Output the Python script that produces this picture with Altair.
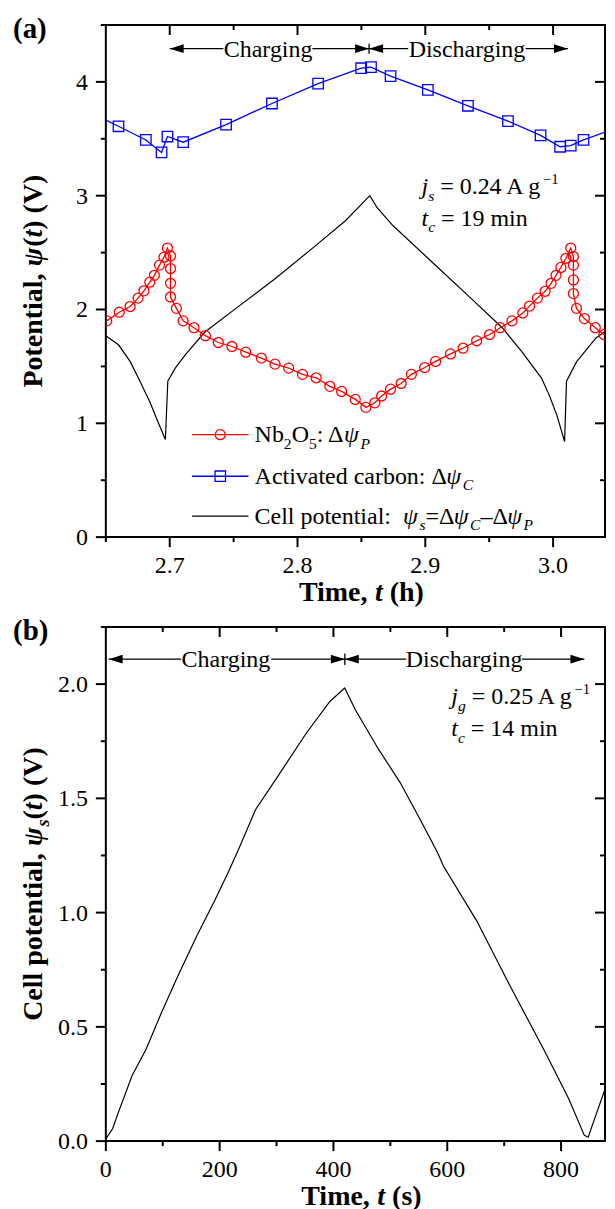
import altair as alt
import pandas as pd

SERIF = "Liberation Serif"

# ---------------- Panel (a): electrode and cell potentials vs time (h) ----------------
nb_t = [2.6507, 2.6605, 2.669, 2.6752, 2.6798, 2.6844, 2.688, 2.692, 2.6955, 2.6982,
        2.7006, 2.7006, 2.7006, 2.7006, 2.7052, 2.7105, 2.719, 2.7279, 2.738, 2.7487,
        2.7595, 2.7717, 2.7824, 2.7931, 2.8039, 2.8146, 2.8253, 2.8345, 2.8452, 2.8535,
        2.8605, 2.8658, 2.8728, 2.8811, 2.8891, 2.8995, 2.908, 2.9197, 2.9295, 2.9402,
        2.9503, 2.9586, 2.9678, 2.9763, 2.9816, 2.9877, 2.9938, 2.9984, 3.0023, 3.0061,
        3.01, 3.0138, 3.0159, 3.0159, 3.0159, 3.0159, 3.0183, 3.0245, 3.033, 3.0398, 3.0474]
nb_v = [1.90, 1.976, 2.026, 2.10, 2.164, 2.24, 2.30, 2.39, 2.46, 2.54,
        2.47, 2.36, 2.23, 2.11, 2.01, 1.90, 1.84, 1.77, 1.71, 1.675,
        1.625, 1.573, 1.52, 1.485, 1.43, 1.40, 1.325, 1.28, 1.21, 1.14,
        1.18, 1.24, 1.30, 1.35, 1.43, 1.49, 1.544, 1.61, 1.66, 1.725,
        1.78, 1.84, 1.90, 1.97, 2.03, 2.10, 2.16, 2.23, 2.30, 2.37,
        2.45, 2.54, 2.465, 2.39, 2.26, 2.14, 2.01, 1.92, 1.84, 1.78, 1.73]

ac_t = [2.6599, 2.6813, 2.6936, 2.6982, 2.7105, 2.7441, 2.78, 2.8161, 2.8498, 2.8575,
        2.8728, 2.902, 2.9334, 2.9647, 2.9902, 3.0055, 3.0138, 3.0238]
ac_v = [3.61, 3.49, 3.38, 3.52, 3.47, 3.625, 3.81, 3.985, 4.12, 4.13,
        4.05, 3.93, 3.79, 3.655, 3.53, 3.43, 3.44, 3.49]
ac_line_t = [2.65, 2.6599, 2.6813, 2.6936, 2.6982, 2.7105, 2.7441, 2.78, 2.8161, 2.8498,
             2.8575, 2.8728, 2.902, 2.9334, 2.9647, 2.9902, 3.0055, 3.0138, 3.0238, 3.0484]
ac_line_v = [3.664, 3.61, 3.49, 3.38, 3.52, 3.47, 3.625, 3.81, 3.985, 4.12,
             4.13, 4.05, 3.93, 3.79, 3.655, 3.53, 3.43, 3.44, 3.49, 3.59]

cell_a_t = [2.65, 2.6599, 2.669, 2.6767, 2.6844, 2.6905, 2.6966, 2.6985, 2.7043, 2.712,
            2.7273, 2.7518, 2.7824, 2.813, 2.8375, 2.8566, 2.862, 2.8744, 2.905, 2.9356,
            2.9602, 2.9755, 2.9908, 2.9969, 3.003, 3.009, 3.0105, 3.0183, 3.0336, 3.0484]
cell_a_v = [1.77, 1.69, 1.544, 1.37, 1.19, 1.02, 0.857, 1.37, 1.485, 1.60,
            1.80, 2.01, 2.27, 2.55, 2.78, 3.0, 2.90, 2.74, 2.42, 2.10,
            1.84, 1.63, 1.40, 1.25, 1.07, 0.84, 1.37, 1.54, 1.75, 1.87]

a_x_major = [2.7, 2.8, 2.9, 3.0]
a_x_labels = ["2.7", "2.8", "2.9", "3.0"]
a_x_minor = [2.65, 2.75, 2.85, 2.95]
a_y_major = [0, 1, 2, 3, 4]
a_y_labels = ["0", "1", "2", "3", "4"]
a_y_minor = [0.5, 1.5, 2.5, 3.5, 4.5]

# ---------------- Panel (b): cell potential vs time (s) ----------------
cell_b_t = [0, 11.9, 22.2, 46.2, 70.3, 97.9, 125.4, 159.8, 190.7, 214.9,
            232, 263, 304.2, 352.5, 393.7, 419.8, 438.4, 479.7, 517.5, 555.4,
            583, 593.2, 651.7, 710.2, 772.1, 813.4, 840.9, 847.7, 854.7, 875.3, 894.7]
cell_b_v = [0.01, 0.054, 0.127, 0.287, 0.40, 0.563, 0.716, 0.898, 1.05, 1.175,
            1.27, 1.45, 1.604, 1.786, 1.924, 1.983, 1.888, 1.713, 1.568, 1.393,
            1.262, 1.204, 0.964, 0.68, 0.389, 0.185, 0.025, 0.017, 0.068, 0.214, 0.316]

b_x_major = [0, 200, 400, 600, 800]
b_x_labels = ["0", "200", "400", "600", "800"]
b_x_minor = [100, 300, 500, 700]
b_y_major = [0, 0.5, 1.0, 1.5, 2.0]
b_y_labels = ["0.0", "0.5", "1.0", "1.5", "2.0"]
b_y_minor = [0.25, 0.75, 1.25, 1.75, 2.25]

# ---------------- layout constants ----------------
W = 500                     # plot width (page is only 599 px wide inside its margins)
H1 = 513
H2 = 515
X1 = [2.65, 2.65 + W / 1280.0]   # 1280 px per hour, as in the reference
Y1 = [0, 4.5]
X2 = [0, W / 0.57]               # 0.57 px per second
Y2 = [0, 2.25]
FS = 24      # regular text / tick labels
FT = 28      # bold axis titles
MAJ = 10
MIN = 5

# Times-like advance widths (em) for fragment placement
REG = {' ': .25, ':': .278, '=': .564, '.': .25, ',': .25, '−': .564, '–': .5, 'Δ': .612, 'ψ': .686,
       '(': .333, ')': .333, 'A': .722, 'C': .667, 'N': .722, 'O': .722, 'P': .556, 'V': .722,
       'a': .444, 'b': .5, 'c': .444, 'd': .5, 'e': .444, 'g': .5, 'h': .5, 'i': .278, 'l': .278,
       'm': .778, 'n': .5, 'o': .5, 'p': .5, 'r': .333, 's': .389, 't': .278, 'v': .5}
ITA = {'j': .278, 's': .389, 't': .278, 'c': .444, 'g': .5, 'ψ': .686, 'P': .611, 'C': .667}
BOLD = {'T': .667, 'i': .278, 'm': .833, 'e': .444, ',': .25, ' ': .25, '(': .333, ')': .333,
        'h': .556, 's': .389, 'P': .611, 'o': .5, 't': .333, 'n': .556, 'a': .5, 'l': .278,
        'V': .722, 'C': .722, 'p': .556, 'b': .556}
BI = {'t': .278, 'ψ': .7, 's': .389}
STY = {
    "r": (1.0, "normal", "normal", 0.0, REG),
    "i": (1.0, "italic", "normal", 0.0, ITA),
    "sub_r": (0.65, "normal", "normal", 0.27, REG),
    "sub_i": (0.65, "italic", "normal", 0.27, ITA),
    "sup_r": (0.62, "normal", "normal", -0.42, REG),
    "b": (1.0, "normal", "bold", 0.0, BOLD),
    "bi": (1.0, "italic", "bold", 0.0, BI),
    "sub_bi": (0.65, "italic", "bold", 0.27, BI),
}
ONE = pd.DataFrame({"k": [0]})


def seg_w(txt, st, size):
    s = STY[st]
    return sum(s[4].get(c, REG.get(c, 0.5)) for c in txt) * size * s[0]


def rich(segs, size, x_enc, y_enc, df, angle=None, center=False):
    ws = [seg_w(t, st, size) for t, st in segs]
    off = -sum(ws) / 2 if center else 0.0
    out = []
    for (txt, st), w in zip(segs, ws):
        s = STY[st]
        core = txt.strip(" ")
        lead = len(txt) - len(txt.lstrip(" "))
        if core:
            kw = dict(text=core, font=SERIF, fontSize=size * s[0],
                      fontStyle=s[1], fontWeight=s[2], align="left", baseline="alphabetic",
                      dx=off + seg_w(" " * lead, st, size), dy=size * s[3], color="black")
            if angle is not None:
                kw["angle"] = angle
            out.append(alt.Chart(df).mark_text(**kw).encode(x=x_enc, y=y_enc))
        off += w
    return out


LEFT_HEAD = "M0,0L2,-0.62L2,0.62Z"
RIGHT_HEAD = "M0,0L-2,-0.62L-2,0.62Z"


def panel(xs, ys, h, series, x_major, x_labels, x_minor, y_major, y_labels, y_minor,
          arrow_y, segs_x, left_tips, right_tips, mid_x, bar_half, lab_x,
          ann, legend, ytitle, xtitle, plabel):
    X = lambda f: alt.X(f, scale=xs, axis=None)
    Y = lambda f: alt.Y(f, scale=ys, axis=None)
    layers = []
    for s in series:
        df = pd.DataFrame({"t": s["t"], "v": s["v"], "i": list(range(len(s["t"])))})
        if s["kind"] == "line":
            layers.append(alt.Chart(df).mark_line(color=s["color"], strokeWidth=s["w"], clip=True)
                          .encode(x=X("t:Q"), y=Y("v:Q"), order=alt.Order("i:Q")))
        else:
            layers.append(alt.Chart(df).mark_point(shape=s["shape"], filled=False, color=s["color"],
                                                   size=s["size"], strokeWidth=1.3, opacity=1, clip=True)
                          .encode(x=X("t:Q"), y=Y("v:Q")))
    # ---- axes drawn from tick arrays: outward on left/bottom, inward on top/right ----
    xt_major = pd.DataFrame({"t": x_major, "lab": x_labels})
    yt_major = pd.DataFrame({"v": y_major, "lab": y_labels})
    for vals, ln in ((x_major, MAJ), (x_minor, MIN)):
        d = pd.DataFrame({"t": vals})
        layers.append(alt.Chart(d).mark_rule(color="black", strokeWidth=2).encode(
            x=X("t:Q"), y=alt.value(h), y2=alt.value(h + ln)))
        layers.append(alt.Chart(d[d.t > xs.domain[0]]).mark_rule(color="black", strokeWidth=2).encode(
            x=X("t:Q"), y=alt.value(0), y2=alt.value(ln)))
    for vals, ln in ((y_major, MAJ), (y_minor, MIN)):
        d = pd.DataFrame({"v": vals})
        layers.append(alt.Chart(d).mark_rule(color="black", strokeWidth=2).encode(
            y=Y("v:Q"), x=alt.value(-ln), x2=alt.value(0)))
        layers.append(alt.Chart(d[(d.v > ys.domain[0]) & (d.v < ys.domain[1])]).mark_rule(
            color="black", strokeWidth=2).encode(y=Y("v:Q"), x=alt.value(W - ln), x2=alt.value(W)))
    layers.append(alt.Chart(xt_major).mark_text(font=SERIF, fontSize=FS, color="black", align="center",
                                                baseline="alphabetic").encode(
        x=X("t:Q"), y=alt.value(h + 36), text="lab:N"))
    layers.append(alt.Chart(yt_major).mark_text(font=SERIF, fontSize=FS, color="black", align="right",
                                                baseline="alphabetic", dy=8).encode(
        y=Y("v:Q"), x=alt.value(-18), text="lab:N"))
    # ---- charging / discharging arrows ----
    seg_df = pd.DataFrame({"a": [p[0] for p in segs_x], "b": [p[1] for p in segs_x],
                           "y": [arrow_y] * len(segs_x)})
    layers.append(alt.Chart(seg_df).mark_rule(color="black", strokeWidth=1.3).encode(
        x=X("a:Q"), x2="b:Q", y=Y("y:Q")))
    for tips, shp in ((left_tips, LEFT_HEAD), (right_tips, RIGHT_HEAD)):
        layers.append(alt.Chart(pd.DataFrame({"t": tips, "y": [arrow_y] * len(tips)})).mark_point(
            shape=shp, filled=True, color="black", size=196, strokeWidth=0, opacity=1).encode(
            x=X("t:Q"), y=Y("y:Q")))
    layers.append(alt.Chart(pd.DataFrame({"t": [mid_x], "y1": [arrow_y - bar_half], "y2": [arrow_y + bar_half]}))
                  .mark_rule(color="black", strokeWidth=1.3).encode(x=X("t:Q"), y=Y("y1:Q"), y2="y2:Q"))
    lab_df = pd.DataFrame({"t": lab_x, "y": [arrow_y] * 2, "s": ["Charging", "Discharging"]})
    layers.append(alt.Chart(lab_df).mark_text(font=SERIF, fontSize=FS, color="black", align="center",
                                              baseline="alphabetic", dy=8).encode(
        x=X("t:Q"), y=Y("y:Q"), text="s:N"))
    # ---- annotations ----
    for (tx, ty, segs) in ann:
        df = pd.DataFrame({"x": [tx], "y": [ty]})
        layers += rich(segs, FS, X("x:Q"), Y("y:Q"), df)
    # ---- custom legend ----
    if legend:
        for item in legend:
            ldf = pd.DataFrame({"a": [item["x0"]], "b": [item["x1"]], "y": [item["y"]],
                                "m": [(item["x0"] + item["x1"]) / 2]})
            layers.append(alt.Chart(ldf).mark_rule(color=item["color"], strokeWidth=1.3).encode(
                x=X("a:Q"), x2="b:Q", y=Y("y:Q")))
            if item.get("shape"):
                layers.append(alt.Chart(ldf).mark_point(shape=item["shape"], filled=False, color=item["color"],
                                                        size=item["size"], strokeWidth=1.3, opacity=1).encode(
                    x=X("m:Q"), y=Y("y:Q")))
            df = pd.DataFrame({"x": [item["tx"]], "y": [item["ty"]]})
            layers += rich(item["segs"], FS, X("x:Q"), Y("y:Q"), df)
    # ---- axis titles and panel label ----
    layers += rich(ytitle, FT, alt.value(-64), alt.value(h / 2), ONE, angle=270, center=True)
    layers += rich(xtitle, FT, alt.value(256), alt.value(h + 64), ONE, center=True)
    layers += rich([(plabel, "b")], 29, alt.value(-93), alt.value(13), ONE)
    return alt.layer(*layers).properties(width=W, height=h)


xs1 = alt.Scale(domain=X1, nice=False, zero=False)
ys1 = alt.Scale(domain=Y1, nice=False, zero=False)
xs2 = alt.Scale(domain=X2, nice=False, zero=False)
ys2 = alt.Scale(domain=Y2, nice=False, zero=False)

panel_a = panel(
    xs1, ys1, H1,
    [
        {"kind": "line", "t": cell_a_t, "v": cell_a_v, "color": "black", "w": 1.2},
        {"kind": "line", "t": ac_line_t, "v": ac_line_v, "color": "#0000FF", "w": 1.3},
        {"kind": "point", "t": ac_t, "v": ac_v, "color": "#0000FF", "shape": "square", "size": 110},
        {"kind": "line", "t": nb_t, "v": nb_v, "color": "#FF0000", "w": 1.3},
        {"kind": "point", "t": nb_t, "v": nb_v, "color": "#FF0000", "shape": "circle", "size": 100},
    ],
    a_x_major, a_x_labels, a_x_minor, a_y_major, a_y_labels, a_y_minor,
    4.292, [(2.700, 2.742), (2.8116, 2.856), (2.856, 2.8866), (2.9785, 3.0116)],
    [2.700, 2.856], [2.856, 3.0116], 2.856, 0.044, [2.777, 2.9326],
    [(2.897, 3.011, [("j", "i"), ("s", "sub_i"), (" = 0.24 A g", "r"), ("−1", "sup_r")]),
     (2.897, 2.737, [("t", "i"), ("c", "sub_i"), (" = 19 min", "r")])],
    [
        {"x0": 2.7175, "x1": 2.7616, "y": 0.90, "color": "#FF0000", "shape": "circle", "size": 100,
         "tx": 2.7664, "ty": 0.834,
         "segs": [("Nb", "r"), ("2", "sub_r"), ("O", "r"), ("5", "sub_r"), (": Δ", "r"), ("ψ", "i"), ("P", "sub_i")]},
        {"x0": 2.7175, "x1": 2.7616, "y": 0.535, "color": "#0000FF", "shape": "square", "size": 110,
         "tx": 2.7664, "ty": 0.469,
         "segs": [("Activated carbon: Δ", "r"), ("ψ", "i"), ("C", "sub_i")]},
        {"x0": 2.7175, "x1": 2.7616, "y": 0.184, "color": "black",
         "tx": 2.7664, "ty": 0.118,
         "segs": [("Cell potential:  ", "r"), ("ψ", "i"), ("s", "sub_i"), ("=Δ", "r"), ("ψ", "i"),
                  ("C", "sub_i"), ("–Δ", "r"), ("ψ", "i"), ("P", "sub_i")]},
    ],
    [("Potential, ", "b"), ("ψ", "bi"), ("(", "b"), ("t", "bi"), (") (V)", "b")],
    [("Time, ", "b"), ("t", "bi"), (" (h)", "b")],
    "(a)",
)

panel_b = panel(
    xs2, ys2, H2,
    [{"kind": "line", "t": cell_b_t, "v": cell_b_v, "color": "black", "w": 1.2}],
    b_x_major, b_x_labels, b_x_minor, b_y_major, b_y_labels, b_y_minor,
    2.109, [(4.9, 132.3), (290.5, 420), (420, 528), (731, 841)],
    [4.9, 420], [420, 841], 420, 0.025, [211, 629.5],
    [(607, 1.912, [("j", "i"), ("g", "sub_i"), (" = 0.25 A g", "r"), ("−1", "sup_r")]),
     (607, 1.772, [("t", "i"), ("c", "sub_i"), (" = 14 min", "r")])],
    None,
    [("Cell potential, ", "b"), ("ψ", "bi"), ("s", "sub_bi"), ("(", "b"), ("t", "bi"), (") (V)", "b")],
    [("Time, ", "b"), ("t", "bi"), (" (s)", "b")],
    "(b)",
)

chart = alt.vconcat(panel_a, panel_b, spacing=8).properties(
    padding={"left": 4, "top": 5, "right": 0, "bottom": 0}
).configure_view(stroke="black", strokeWidth=2)

chart.save("out.html", embed_options={"renderer": "svg", "actions": False})
